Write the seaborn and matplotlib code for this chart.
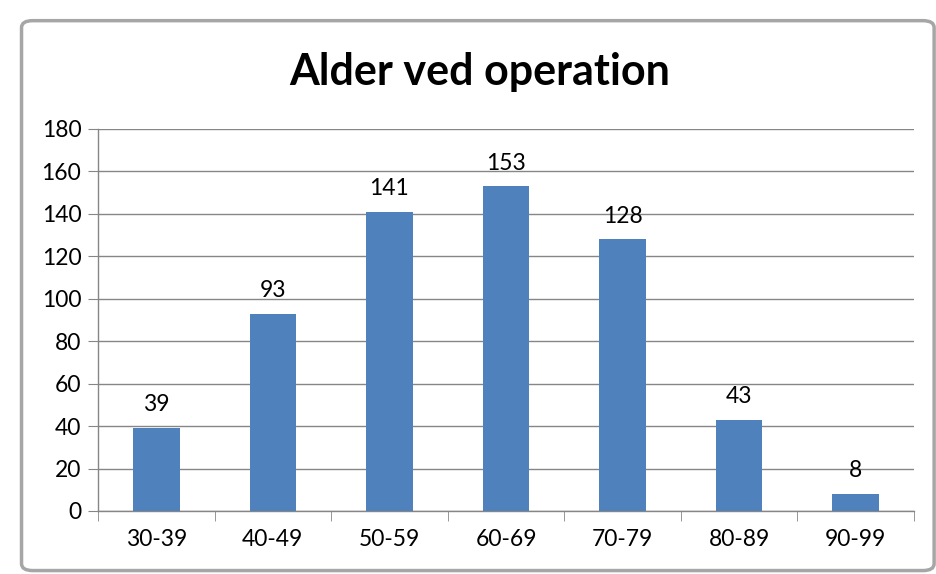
import matplotlib
matplotlib.use("Agg")
import matplotlib.pyplot as plt
import seaborn as sns
import pandas as pd
from matplotlib.patches import FancyBboxPatch

# data
age_groups = ["30-39", "40-49", "50-59", "60-69", "70-79", "80-89", "90-99"]
counts = [39, 93, 141, 153, 128, 43, 8]
y_ticks = [0, 20, 40, 60, 80, 100, 120, 140, 160, 180]

df = pd.DataFrame({"Alder": age_groups, "Antal": counts})

sns.set_style("white")
plt.rcParams['font.family'] = ['Lato', 'DejaVu Sans']
plt.rcParams['text.color'] = 'black'
plt.rcParams['xtick.color'] = 'black'
plt.rcParams['ytick.color'] = 'black'

fig = plt.figure(figsize=(9.36, 5.74), dpi=100)

# excel-like chart frame
frame = FancyBboxPatch((0.023, 0.006), 0.975, 0.958, boxstyle="round,pad=0,rounding_size=0.012",
                       transform=fig.transFigure, facecolor="white", edgecolor="#a6a6a6",
                       linewidth=2.5, zorder=-1)
fig.patches.append(frame)

ax = fig.add_axes([0.1047, 0.1098, 0.8718, 0.6655])
ax.set_facecolor("none")
ax.set_zorder(2)

sns.barplot(data=df, x="Alder", y="Antal", color="#4f81bd", width=0.4,
            saturation=1, linewidth=0, ax=ax, zorder=3)

ax.set_ylim(0, 180)
ax.set_yticks(y_ticks)
ax.set_xlim(-0.5, len(age_groups) - 0.5)
ax.yaxis.grid(True, color="#868686", linewidth=1.0, zorder=0)
ax.xaxis.grid(False)

for side in ["top", "right"]:
    ax.spines[side].set_visible(False)
for side in ["left", "bottom"]:
    ax.spines[side].set_color("#868686")
    ax.spines[side].set_linewidth(1.0)

ax.tick_params(axis="y", which="major", length=7, color="#868686", labelcolor="black",
               labelsize=16.5, pad=5, left=True)
ax.tick_params(axis="x", which="major", length=0, labelcolor="black", labelsize=16.5, pad=13)
ax.set_xticks([i - 0.5 for i in range(len(age_groups) + 1)], minor=True)
ax.tick_params(axis="x", which="minor", length=7, color="#868686", bottom=True)

ax.set_xlabel("")
ax.set_ylabel("")

# values above bars
for i, v in enumerate(counts):
    ax.text(i, v + 6, str(v), ha="center", va="bottom", fontsize=16.5)

fig.text(0.513, 0.875, "Alder ved operation", ha="center", va="center",
         fontsize=31, fontweight="bold")

fig.savefig("out.png", dpi=100)
